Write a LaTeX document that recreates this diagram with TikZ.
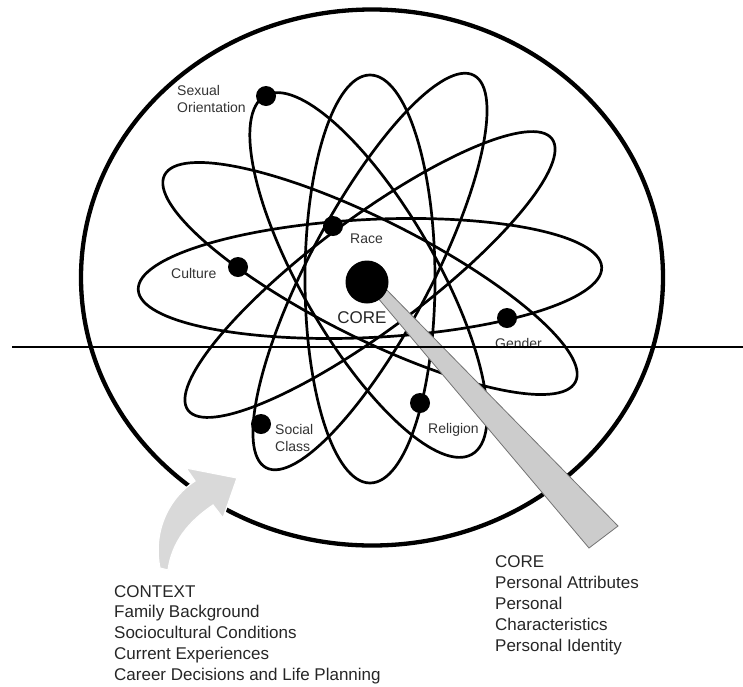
\documentclass[tikz,border=0pt]{standalone}
\usepackage{fontspec}
\setmainfont{Liberation Sans}
\begin{document}
\begin{tikzpicture}[x=1pt,y=-1pt,
  orbit/.style={draw=black, line width=2.7pt},
  electron/.style={circle, fill=black, inner sep=0pt, minimum size=20pt},
  lbl/.style={text=black!80, font=\fontsize{14}{17}\selectfont, inner sep=0pt, anchor=base west},
  bigtxt/.style={text=black!85, font=\fontsize{17}{21}\selectfont, inner sep=0pt, anchor=base west}]
\useasboundingbox (0,0) rectangle (743,686);
% outer context circle
\coordinate (cc) at (372,277.5);
\draw[line width=4.3pt] (cc) ellipse [x radius=291pt, y radius=268pt];
% orbits
\coordinate (oh) at (370,278.5);
\coordinate (o2) at (370,278.5);
\coordinate (o3) at (370,274.5);
\coordinate (oa) at (370,279);
\coordinate (ob) at (370,271.5);
\coordinate (oc) at (368.5,275);
\draw[orbit, rotate around={2.8:(oh)}] (oh) ellipse [x radius=232pt, y radius=59pt];
\draw[orbit, rotate around={-26.7:(o2)}] (o2) ellipse [x radius=230pt, y radius=59pt];
\draw[orbit, rotate around={36.7:(o3)}] (o3) ellipse [x radius=227pt, y radius=56pt];
\draw[orbit] (oa) ellipse [x radius=65pt, y radius=204pt];
\draw[orbit, rotate around={62.1:(ob)}] (ob) ellipse [x radius=222pt, y radius=61pt];
\draw[orbit, rotate around={120:(oc)}] (oc) ellipse [x radius=207pt, y radius=67pt];
% context arrow
\fill[black!15, draw=white, line width=1.2pt]
  (160,568) .. controls (153,535) and (166,500) .. (195,481)
  -- (186,468) -- (237,478) -- (223,518) -- (213,505)
  .. controls (188,522) and (172,542) .. (168,570) -- cycle;
% core pointer wedge
\filldraw[fill=black!20, draw=black!55, line width=0.8pt]
  (372,291) -- (589,548) -- (618,526) -- (381,284) -- cycle;
% core
\node[circle, fill=black, inner sep=0pt, minimum size=43pt] (core) at (367,282) {};
\node[text=black!85, font=\fontsize{17}{21}\selectfont, inner sep=0pt, anchor=base] (corelbl) at (362,323) {CORE};
% electrons
\node[electron] (eso) at (266,96) {};
\node[electron] (erace) at (333,226) {};
\node[electron] (ecult) at (238,267) {};
\node[electron] (egend) at (507,318) {};
\node[electron] (esoc) at (261,424) {};
\node[electron] (erel) at (420,403) {};
% labels
\node[lbl] (l1a) at (177,95) {Sexual};
\node[lbl] (l1b) at (177,112) {Orientation};
\node[lbl] (l2) at (350,243) {Race};
\node[lbl] (l3) at (171,278) {Culture};
\node[lbl] (l4) at (495,348) {Gender};
\node[lbl] (l5a) at (275,434) {Social};
\node[lbl] (l5b) at (275,451) {Class};
\node[lbl] (l6) at (428,433) {Religion};
% bottom texts
\node[bigtxt] (c1) at (114,597) {CONTEXT};
\node[bigtxt] (c2) at (114,617.75) {Family Background};
\node[bigtxt] (c3) at (114,638.5) {Sociocultural Conditions};
\node[bigtxt] (c4) at (114,659.25) {Current Experiences};
\node[bigtxt] (c5) at (114,680) {Career Decisions and Life Planning};
\node[bigtxt] (k1) at (495,567) {CORE};
\node[bigtxt] (k2) at (495,588.2) {Personal Attributes};
\node[bigtxt] (k3) at (495,609.4) {Personal};
\node[bigtxt] (k4) at (495,630.6) {Characteristics};
\node[bigtxt] (k5) at (495,651.8) {Personal Identity};
% horizontal rule
\coordinate (hl) at (12,347);
\coordinate (hr) at (743,347);
\draw[line width=2pt] (hl) -- (hr);
\end{tikzpicture}
\end{document}
